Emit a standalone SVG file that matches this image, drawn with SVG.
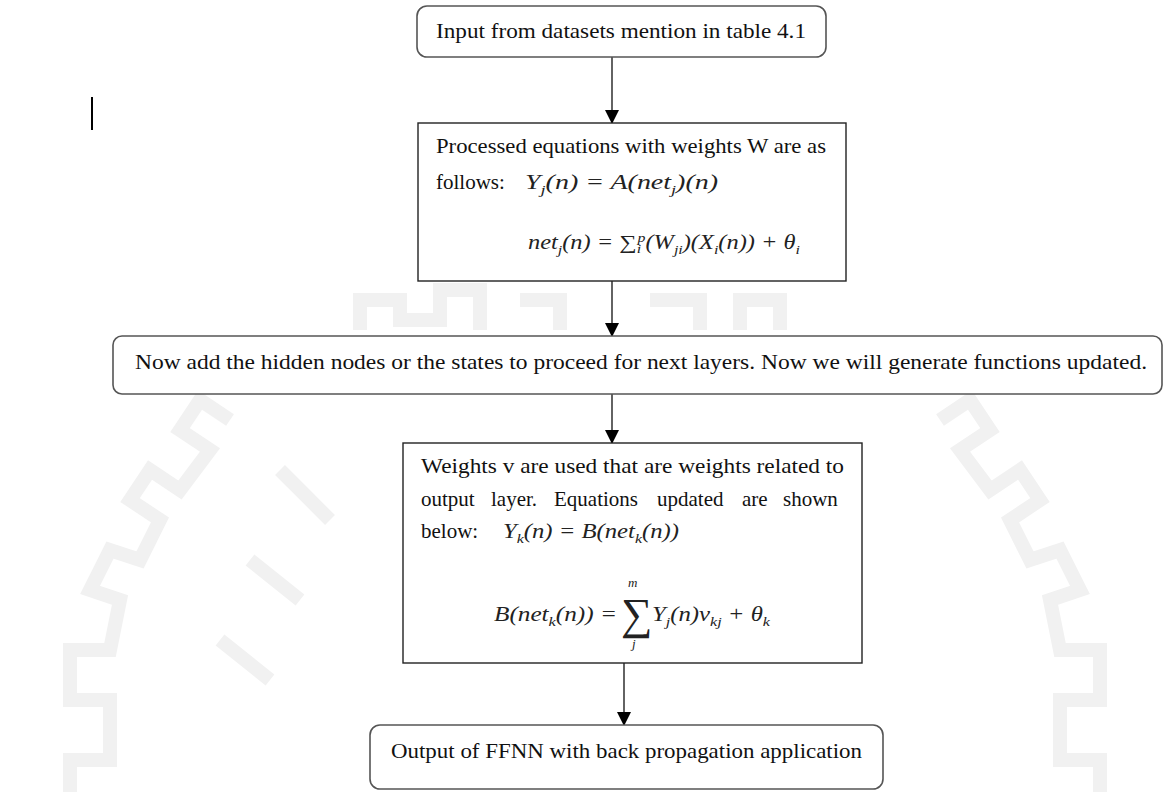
<svg xmlns="http://www.w3.org/2000/svg" width="1167" height="792" viewBox="0 0 1167 792">
  <defs>
    <marker id="arrow" viewBox="0 0 14 14" refX="13" refY="7" markerWidth="14" markerHeight="14" markerUnits="userSpaceOnUse" orient="auto">
      <path d="M0,0 L14,7 L0,14 Z" fill="#000"/>
    </marker>
    <style>
      .box { fill: #fff; stroke: #555; stroke-width: 1.6; }
      .sq { fill: #fff; stroke: #222; stroke-width: 1.4; }
      .t { font-family: "Liberation Serif", "Times New Roman", serif; font-size: 21px; fill: #111; }
      .m { font-family: "Liberation Serif", "Times New Roman", serif; font-style: italic; font-size: 20px; fill: #222; }
      .sub { font-size: 13px; }
      .wm { fill: none; stroke: #f1f1f1; stroke-width: 14; }
      .link { fill: none; stroke: #222; stroke-width: 1.4; marker-end: url(#arrow); }
    </style>
  </defs>
  <rect width="1167" height="792" fill="#fff"/>

  <!-- faint background emblem -->
  <g id="emblem">
    <path class="wm" d="M360,330 L360,300 L400,300 L400,320 L440,320 L440,290 L480,290 L480,330 M520,300 L560,300 L560,330 M650,300 L700,300 L700,330 M740,330 L740,300 L780,300 L780,330"/>
    <path class="wm" d="M230,420 L200,400 L180,430 L210,450 L180,490 L150,470 L130,500 L160,520 L140,560 L110,550 L90,590 L120,600 L110,650 L70,650 L70,700 L110,700 L110,760 L70,760 L70,792"/>
    <path class="wm" d="M280,470 L330,520 M250,560 L300,600 M220,640 L270,680"/>
    <path class="wm" d="M940,420 L970,400 L990,430 L960,450 L990,490 L1020,470 L1040,500 L1010,520 L1030,560 L1060,550 L1080,590 L1050,600 L1060,650 L1100,650 L1100,700 L1060,700 L1060,760 L1100,760 L1100,792"/>
  </g>

  <!-- cursor bar -->
  <rect x="91" y="97" width="2" height="33" fill="#000"/>

  <g id="connectors">
    <line class="link" x1="612" y1="57" x2="612" y2="123"/>
    <line class="link" x1="612" y1="281" x2="612" y2="336"/>
    <line class="link" x1="612" y1="394" x2="612" y2="443"/>
    <line class="link" x1="624" y1="663" x2="624" y2="725"/>
  </g>

  <g id="input">
    <rect class="box" x="417" y="6" width="409" height="51" rx="10"/>
    <text class="t" x="436" y="38" textLength="370" lengthAdjust="spacingAndGlyphs">Input from datasets mention in table 4.1</text>
  </g>

  <g id="hidden-equations">
    <rect class="sq" x="418" y="123" width="428" height="158"/>
    <text class="t" x="436" y="153" textLength="390" lengthAdjust="spacingAndGlyphs">Processed equations with weights W are as</text>
    <text class="t" x="436" y="189">follows:</text>
    <text class="m" x="525" y="189" textLength="193" lengthAdjust="spacingAndGlyphs">Y<tspan class="sub" dy="5">j</tspan><tspan dy="-5">(n) = A(net</tspan><tspan class="sub" dy="5">j</tspan><tspan dy="-5">)(n)</tspan></text>
    <text class="m" x="528" y="249" textLength="272" lengthAdjust="spacingAndGlyphs">net<tspan class="sub" dy="5">j</tspan><tspan dy="-5">(n) = </tspan><tspan font-style="normal">∑</tspan><tspan class="sub" dy="4">i</tspan><tspan class="sub" dx="-3" dy="-11">p</tspan><tspan dy="7">(W</tspan><tspan class="sub" dy="5">ji</tspan><tspan dy="-5">)(X</tspan><tspan class="sub" dy="5">i</tspan><tspan dy="-5">(n)) + θ</tspan><tspan class="sub" dy="5">i</tspan></text>
  </g>

  <g id="hidden-nodes">
    <rect class="box" x="113" y="336" width="1049" height="58" rx="9"/>
    <text class="t" x="135" y="369" textLength="1012" lengthAdjust="spacingAndGlyphs">Now add the hidden nodes or the states to proceed for next layers. Now we will generate functions updated.</text>
  </g>

  <g id="output-equations">
    <rect class="sq" x="403" y="443" width="459" height="220"/>
    <text class="t" x="421" y="473" textLength="423" lengthAdjust="spacingAndGlyphs">Weights v are used that are weights related to</text>
    <text class="t" y="506"><tspan x="421">output</tspan><tspan x="491">layer.</tspan><tspan x="554">Equations</tspan><tspan x="657">updated</tspan><tspan x="742">are</tspan><tspan x="783">shown</tspan></text>
    <text class="t" x="421" y="538">below:</text>
    <text class="m" x="503" y="538" textLength="176" lengthAdjust="spacingAndGlyphs">Y<tspan class="sub" dy="5">k</tspan><tspan dy="-5">(n) = B(net</tspan><tspan class="sub" dy="5">k</tspan><tspan dy="-5">(n))</tspan></text>
    <text class="m" x="494" y="621" textLength="123" lengthAdjust="spacingAndGlyphs">B(net<tspan class="sub" dy="5">k</tspan><tspan dy="-5">(n)) =</tspan></text>
    <text x="621" y="629" style="font-family:'Liberation Serif','DejaVu Serif',serif;font-size:44px;fill:#222">∑</text>
    <text class="m sub" x="628" y="587">m</text>
    <text class="m sub" x="632" y="648">j</text>
    <text class="m" x="652" y="621" textLength="118" lengthAdjust="spacingAndGlyphs">Y<tspan class="sub" dy="5">j</tspan><tspan dy="-5">(n)v</tspan><tspan class="sub" dy="5">kj</tspan><tspan dy="-5"> + θ</tspan><tspan class="sub" dy="5">k</tspan></text>
  </g>

  <g id="output">
    <rect class="box" x="370" y="725" width="513" height="64" rx="10"/>
    <text class="t" x="391" y="758" textLength="471" lengthAdjust="spacingAndGlyphs">Output of FFNN with back propagation application</text>
  </g>
</svg>
